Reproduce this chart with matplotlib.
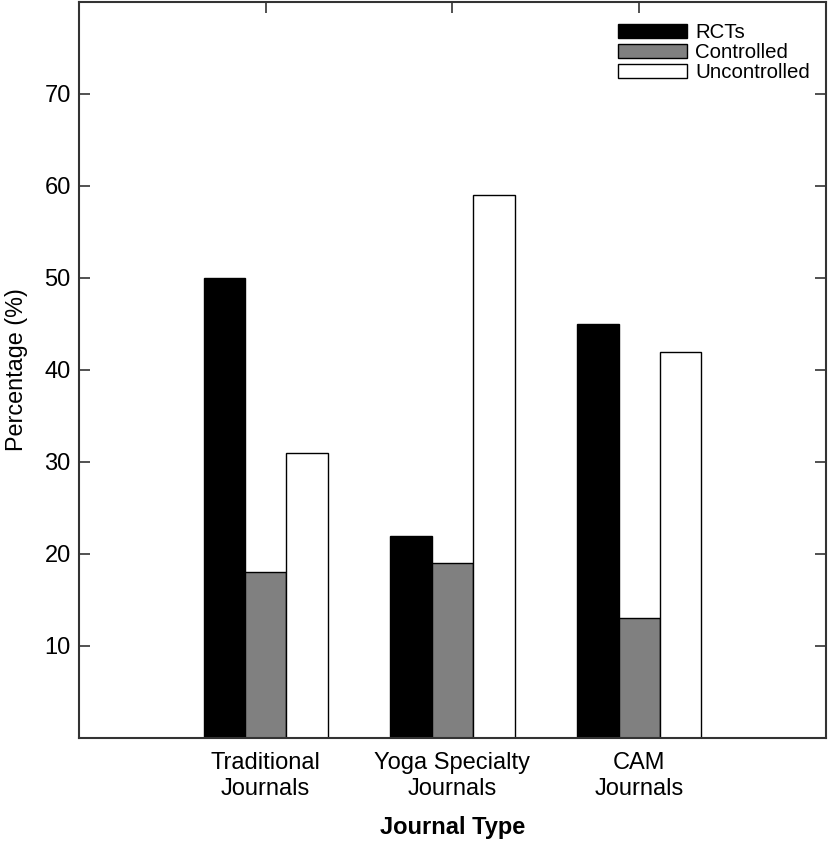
import matplotlib
matplotlib.use("Agg")
import matplotlib.pyplot as plt
import numpy as np
from matplotlib.patches import Patch

plt.rcParams['font.family'] = ['Liberation Sans', 'DejaVu Sans']

categories = ["Traditional\nJournals", "Yoga Specialty\nJournals", "CAM\nJournals"]
series_names = ["RCTs", "Controlled", "Uncontrolled"]
rcts = [50, 22, 45]
controlled = [18, 19, 13]
uncontrolled = [31, 59, 42]
yticks = [10, 20, 30, 40, 50, 60, 70]

colors = ["#000000", "#808080", "#ffffff"]

fig = plt.figure(figsize=(8.29, 8.43), dpi=100)
ax = fig.add_axes([79/829, 1 - 738/843, (826-79)/829, (738-2)/843])

x = np.arange(1, len(categories) + 1)
w = 0.222
for i, (vals, c, name) in enumerate(zip([rcts, controlled, uncontrolled], colors, series_names)):
    ax.bar(x + (i - 1) * w, vals, width=w, color=c, edgecolor="black", linewidth=1.0, label=name, zorder=2)

ax.set_xlim(0, 4)
ax.set_ylim(0, 80)
ax.set_xticks(x)
ax.set_xticklabels(categories, fontsize=17, linespacing=1.23)
ax.set_yticks(yticks)
ax.set_yticklabels([str(t) for t in yticks], fontsize=17)
ax.tick_params(direction="in", length=8, width=1.2, top=True, right=True, color="#333333")
ax.tick_params(axis="y", pad=6)
ax.tick_params(axis="x", pad=10)
for s in ax.spines.values():
    s.set_linewidth(1.5)
    s.set_color("#333333")

ax.set_ylabel("Percentage (%)", fontsize=16.8, labelpad=12)
ax.set_xlabel("Journal Type", fontsize=17, fontweight="bold", labelpad=12)

handles = [Patch(facecolor=c, edgecolor="black", linewidth=1.0) for c in colors]
leg = fig.legend(handles, series_names, loc="upper left",
                 bbox_to_anchor=(618/829, 1 - 23/843),
                 frameon=False, fontsize=14.7, handlelength=3.4, handleheight=0.68,
                 handletextpad=0.38, labelspacing=0.06, borderpad=0.0, borderaxespad=0.0)

fig.savefig("out.png", dpi=100)
